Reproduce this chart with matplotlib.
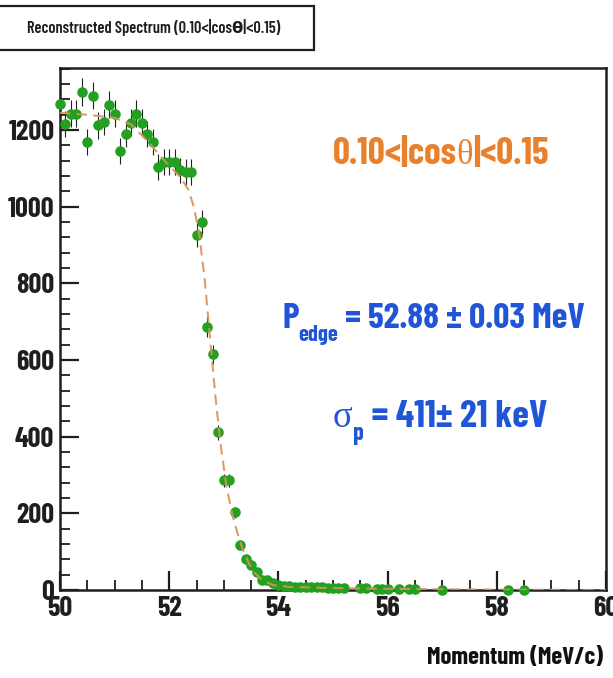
import numpy as np
import matplotlib
matplotlib.use("Agg")
import matplotlib.pyplot as plt
from matplotlib import font_manager as fm
from matplotlib.ticker import MultipleLocator

W, H = 613, 678

# Histogram bin centres (MeV/c) and counts
momentum = [50.0, 50.1, 50.2, 50.3, 50.4, 50.5, 50.6, 50.7, 50.8, 50.9,
            51.0, 51.1, 51.2, 51.3, 51.4, 51.5, 51.6, 51.7, 51.8, 51.9,
            52.0, 52.1, 52.2, 52.3, 52.4, 52.5, 52.6, 52.7, 52.8, 52.9,
            53.0, 53.1, 53.2, 53.3, 53.4, 53.5, 53.6, 53.7, 53.8, 53.9,
            54.0, 54.1, 54.2, 54.3, 54.4, 54.5, 54.6, 54.7, 54.8, 54.9,
            55.0, 55.1, 55.2, 55.5, 55.6, 55.8, 55.9, 56.0, 56.2, 56.4,
            56.5, 57.0, 58.2, 58.5]
counts = [1268, 1216, 1242, 1242, 1300, 1169, 1290, 1212, 1221, 1266,
          1242, 1145, 1190, 1219, 1242, 1219, 1190, 1169, 1104, 1117,
          1117, 1117, 1095, 1091, 1091, 926, 961, 686, 615, 411,
          286, 286, 203, 117, 82, 65, 48, 26, 26, 17,
          12, 11, 10, 9, 9, 8, 8, 7, 7, 6,
          6, 5, 5, 4, 4, 3, 3, 3, 2, 2,
          2, 1, 1, 1]

# Fitted edge function, sampled
fit_x = [50.0, 50.5, 51.0, 51.3, 51.6, 51.9, 52.2, 52.35, 52.45, 52.55,
         52.65, 52.75, 52.85, 52.95, 53.05, 53.15, 53.25, 53.35, 53.45,
         53.55, 53.7, 53.9, 54.2, 55.0, 56.0, 58.0, 60.0]
fit_y = [1245, 1240, 1232, 1215, 1172, 1122, 1078, 1045, 1000, 930,
         810, 655, 500, 370, 270, 200, 148, 105, 72,
         47, 26, 13, 8, 5, 3, 1, 0]

title = "Reconstructed Spectrum (0.10<|cos\u03b8|<0.15)"
x_label = "Momentum (MeV/c)"
x_ticks = [50, 52, 54, 56, 58, 60]
y_ticks = [0, 200, 400, 600, 800, 1000, 1200]

ORANGE = "#e8802c"
BLUE = "#1f55d6"
GREEN = "#22a020"
FIT = "#d9925a"
INK = "#1e1e1e"

installed = {f.name for f in fm.fontManager.ttflist}
SANS_NAME = next((n for n in ["Barlow Condensed", "Roboto Condensed",
                              "Archivo Narrow", "DejaVu Sans"]
                  if n in installed), "DejaVu Sans")
SANS = [SANS_NAME, "DejaVu Sans"]
SERIF = ["Liberation Serif", "DejaVu Serif"]

fig = plt.figure(figsize=(W / 100, H / 100), dpi=100)
fig.patch.set_facecolor("white")
renderer = fig.canvas.get_renderer()


def text_width(txt, **kw):
    t = fig.text(0, 0, txt, **kw)
    w = t.get_window_extent(renderer).width
    t.remove()
    return w


def fitted_size(txt, target_w, **kw):
    return 20 * target_w / text_width(txt, fontsize=20, **kw)


def run(x_px, base_px, target_w, pieces):
    """Lay out text pieces left to right, scaled to span target_w pixels."""
    total = sum(text_width(t, fontsize=s, **kw) for t, s, kw, _ in pieces)
    k = target_w / total
    x = x_px
    for txt, size, kw, dy in pieces:
        t = fig.text(x / W, 1 - (base_px + dy * k) / H, txt, ha="left",
                     va="baseline", fontsize=size * k, **kw)
        x += t.get_window_extent(renderer).width


# axes frame in pixel coordinates
left, right, top, bottom = 60, 606, 68, 590
ax = fig.add_axes([left / W, 1 - bottom / H, (right - left) / W, (bottom - top) / H])
ax.set_xlim(50, 60)
ax.set_ylim(0, 1362)

yerr = np.sqrt(np.array(counts, dtype=float))
ax.errorbar(momentum, counts, yerr=yerr, fmt="none", ecolor="#222222",
            elinewidth=0.8, capsize=0, zorder=2, clip_on=False)
ax.plot(momentum, counts, "o", color=GREEN, markersize=7.6,
        markeredgewidth=0, zorder=3, clip_on=False)
ax.plot(fit_x, fit_y, linestyle=(0, (5, 3)), color=FIT, lw=1.5,
        zorder=4, alpha=0.9)

for s in ax.spines.values():
    s.set_linewidth(1.8)
    s.set_color(INK)

bold = dict(family=SANS, fontweight="bold")
tick_size = fitted_size("1200", 46, **bold)

ax.set_xticks(x_ticks)
ax.set_yticks(y_ticks)
ax.xaxis.set_minor_locator(MultipleLocator(0.5))
ax.yaxis.set_minor_locator(MultipleLocator(40))
ax.tick_params(which="major", direction="in", length=14, width=1.6,
               colors=INK, labelcolor=INK, labelsize=tick_size)
ax.tick_params(which="minor", direction="in", length=7, width=1.3, colors=INK)
ax.tick_params(axis="x", pad=4)
ax.tick_params(axis="y", pad=4)
for lab in ax.get_xticklabels() + ax.get_yticklabels():
    lab.set_family(SANS)
    lab.set_fontweight("bold")

fig.text(603 / W, 1 - 664 / H, x_label, ha="right", va="baseline",
         fontsize=fitted_size(x_label, 176, **bold), color="#111111", **bold)

# title box
fig.patches.append(plt.Rectangle((-2 / W, 1 - 50 / H), 316 / W, 44 / H,
                                 transform=fig.transFigure, facecolor="white",
                                 edgecolor=INK, lw=1.6))
title_kw = dict(family=SANS, fontweight="semibold")
fig.text(154 / W, 1 - 28 / H, title, ha="center", va="center",
         fontsize=fitted_size(title, 252, **title_kw), color=INK, **title_kw)

osans = dict(family=SANS, fontweight="bold", color=ORANGE)
oser = dict(family=SERIF, color=ORANGE)
run(333, 164, 216, [("0.10<|cos", 30, osans, 0), ("\u03b8", 28, oser, 0),
                    ("|<0.15", 30, osans, 0)])

bsans = dict(family=SANS, fontweight="bold", color=BLUE)
bser = dict(family=SERIF, color=BLUE)
run(282, 328, 303, [("P", 30, bsans, 0), ("edge", 19, bsans, 15),
                    (" = 52.88 \u00b1 0.03 MeV", 30, bsans, 0)])
run(333, 427, 214, [("\u03c3", 29, bser, 0), ("p", 19, bsans, 14),
                    (" = 411\u00b1 21 keV", 30, bsans, 0)])

fig.savefig("out.png", dpi=100, facecolor="white")
